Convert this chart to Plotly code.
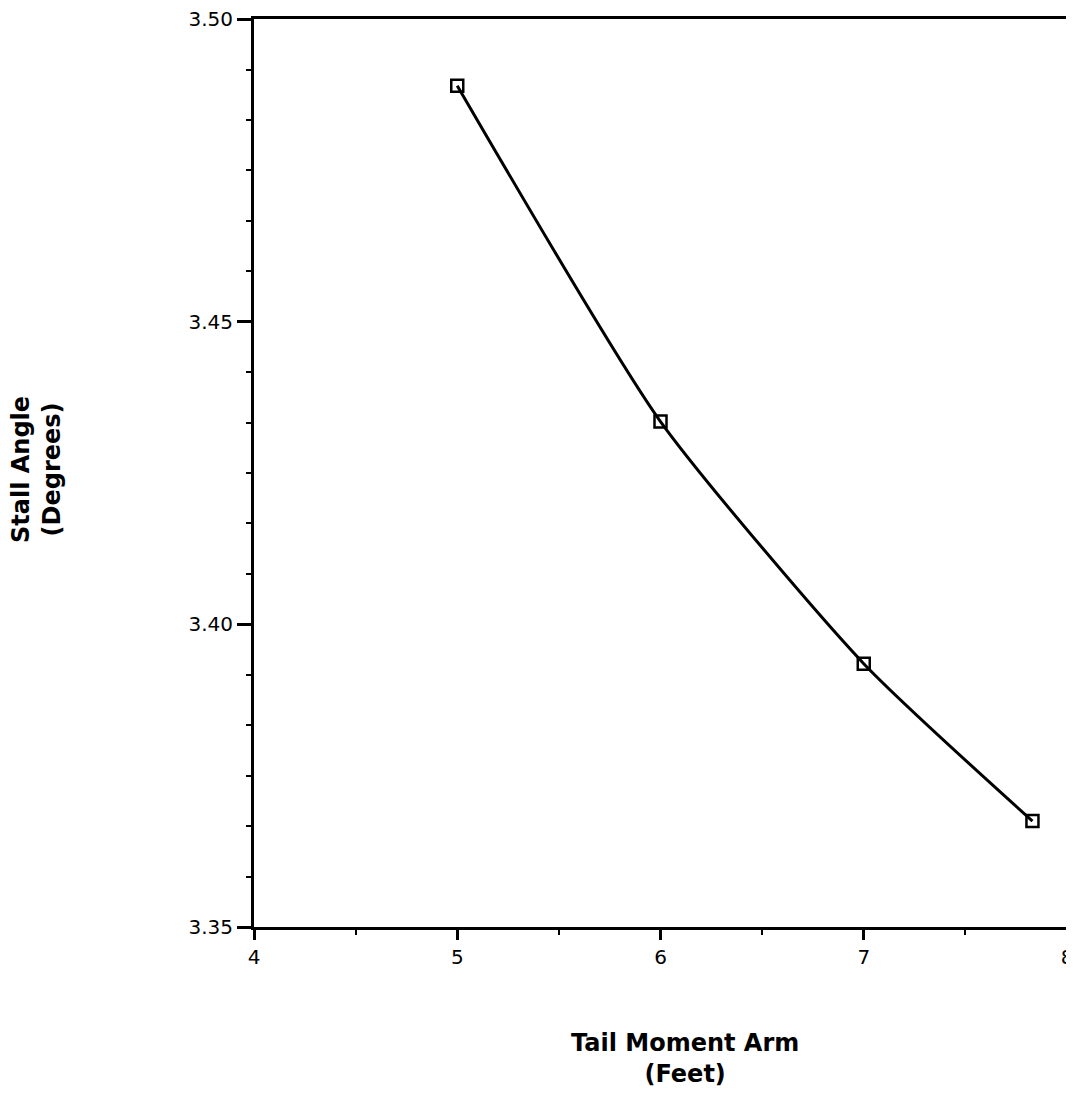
import plotly.graph_objects as go

tail_arm = [5.0, 6.0, 7.0, 7.83]
stall_angle = [3.489, 3.4335, 3.3935, 3.3675]

x_ticks = [4, 5, 6, 7, 8]
y_ticks = [3.35, 3.40, 3.45, 3.50]
y_tick_text = ["3.35", "3.40", "3.45", "3.50"]

fig = go.Figure()
fig.add_trace(go.Scatter(
    x=tail_arm, y=stall_angle, mode="lines+markers",
    line=dict(color="black", width=3, shape="spline", smoothing=0.6),
    marker=dict(symbol="square-open", size=12, color="black", line=dict(width=2.5, color="black")),
    showlegend=False,
))

tick_font = "DejaVu Sans, Liberation Sans, Arial, sans-serif"
title_font = "DejaVu Sans, Liberation Sans, Arial, sans-serif"

W, H = 1066, 1108
L, R, T, B = 246, 7, 11, 189
pw, ph = W - L - R, H - T - B

fig.update_layout(
    width=W, height=H,
    margin=dict(l=L, r=R, t=T, b=B),
    paper_bgcolor="white", plot_bgcolor="white",
    font=dict(family=tick_font, color="black", size=20),
    xaxis=dict(range=[4, 8.00001], tickvals=x_ticks, ticks="outside", ticklen=10, tickwidth=2.5,
               tickcolor="black", showline=True, linecolor="black", linewidth=3, mirror=True,
               showgrid=False, zeroline=False, tickfont=dict(size=20, family=tick_font),
               ticklabeloverflow="allow", automargin=False,
               minor=dict(dtick=0.5, tick0=4, ticks="outside", ticklen=5, tickwidth=2, tickcolor="black")),
    yaxis=dict(range=[3.35, 3.50001], tickvals=y_ticks, ticktext=y_tick_text, ticks="outside", ticklen=14,
               tickwidth=2.5, tickcolor="black", showline=True, linecolor="black", linewidth=3, mirror=True,
               showgrid=False, zeroline=False, tickfont=dict(size=20, family=tick_font),
               ticklabeloverflow="allow", automargin=False,
               minor=dict(dtick=0.05/6, tick0=3.35, ticks="outside", ticklen=5, tickwidth=2, tickcolor="black")),
    annotations=[
        dict(text="<b>Stall Angle<br>(Degrees)</b>", xref="paper", yref="paper",
             x=(36 - 8 - L) / pw, y=(919 - 462) / ph, textangle=-90, showarrow=False,
             font=dict(size=24, family=title_font), xanchor="center", yanchor="middle"),
        dict(text="<b>Tail Moment Arm<br>(Feet)</b>", xref="paper", yref="paper",
             x=(685 - 8 - L) / pw, y=-(1058 - 927) / ph, showarrow=False,
             font=dict(size=24, family=title_font), xanchor="center", yanchor="middle"),
    ],
)

fig.write_html("out.html")
